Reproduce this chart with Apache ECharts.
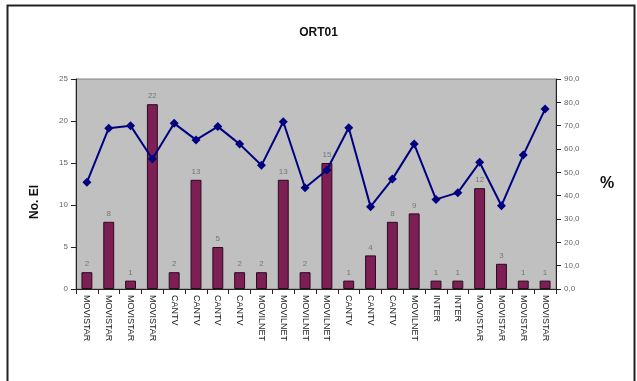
<!DOCTYPE html>
<html>
<head>
<meta charset="utf-8">
<script src="https://cdn.jsdelivr.net/npm/echarts@6/dist/echarts.min.js"></script>
<style>
  html, body { margin: 0; padding: 0; background: #fff; }
  #chart { width: 637px; height: 381px; }
</style>
</head>
<body>
<div id="chart"></div>
<script>
var categories = ['MOVISTAR','MOVISTAR','MOVISTAR','MOVISTAR','CANTV','CANTV','CANTV','CANTV',
  'MOVILNET','MOVILNET','MOVILNET','MOVILNET','CANTV','CANTV','CANTV','MOVILNET',
  'INTER','INTER','MOVISTAR','MOVISTAR','MOVISTAR','MOVISTAR'];
var countValues = [2, 8, 1, 22, 2, 13, 5, 2, 2, 13, 2, 15, 1, 4, 8, 9, 1, 1, 12, 3, 1, 1];
var percentValues = [45.7, 68.9, 70.0, 55.7, 71.0, 63.9, 69.6, 62.1, 53.0, 71.7, 43.4,
  51.0, 69.1, 35.3, 47.1, 62.1, 38.4, 41.3, 54.3, 35.7, 57.4, 77.1];

var myChart = echarts.init(document.getElementById('chart'));

function cal_option() {
  var option = {
    animation: false,
    backgroundColor: '#ffffff',
    title: {
      text: 'ORT01',
      left: 'center',
      top: 22,
      textStyle: { fontFamily: 'Liberation Sans', fontSize: 12, fontWeight: 'bold', color: '#111' }
    },
    graphic: [{
      type: 'rect',
      shape: { x: 7.5, y: 5.5, width: 627, height: 400 },
      style: { fill: null, stroke: '#222', lineWidth: 2 },
      silent: true
    }, {
      type: 'text',
      left: 29,
      top: 185,
      rotation: Math.PI / 2,
      style: { text: 'No. El', font: 'bold 12px Liberation Sans', fill: '#111' }
    }, {
      type: 'text',
      left: 600,
      top: 176,
      style: { text: '%', font: 'bold 16px Liberation Sans', fill: '#111' }
    }],
    grid: {
      left: 76, right: 81, top: 79, bottom: 92,
      show: true,
      backgroundColor: '#c0c0c0',
      borderColor: '#808080',
      borderWidth: 1
    },
    xAxis: {
      type: 'category',
      data: categories,
      axisLine: { lineStyle: { color: '#222' } },
      axisTick: { show: true, lineStyle: { color: '#222' } },
      axisLabel: {
        interval: 0,
        rotate: -90,
        fontFamily: 'Liberation Sans',
        fontSize: 9,
        color: '#222',
        margin: 6
      }
    },
    yAxis: [{
      type: 'value',
      min: 0, max: 25, interval: 5,
      axisLine: { show: true, lineStyle: { color: '#222' } },
      axisTick: { show: true, lineStyle: { color: '#222' } },
      splitLine: { show: false },
      axisLabel: { fontFamily: 'Liberation Sans', fontSize: 8, color: '#666' }
    }, {
      type: 'value',
      min: 0, max: 90, interval: 10,
      position: 'right',
      axisLine: { show: true, lineStyle: { color: '#222' } },
      axisTick: { show: true, lineStyle: { color: '#222' } },
      splitLine: { show: false },
      axisLabel: {
        fontFamily: 'Liberation Sans', fontSize: 8, color: '#666', margin: 8,
        formatter: function (v) { return v.toFixed(1).replace('.', ','); }
      }
    }],
    series: [{
      name: 'No. El',
      type: 'bar',
      data: countValues,
      barWidth: '50%',
      itemStyle: { color: '#7d1f55', borderColor: '#2a0a1e', borderWidth: 1 },
      label: { show: true, position: 'top', fontFamily: 'Liberation Sans', fontSize: 8, color: '#777', distance: 4 }
    }, {
      name: '%',
      type: 'line',
      yAxisIndex: 1,
      data: percentValues,
      symbol: 'diamond',
      symbolSize: 9,
      lineStyle: { color: '#000080', width: 2 },
      itemStyle: { color: '#000080' },
      z: 3
    }]
  };
  return option;
}

myChart.setOption(cal_option());
</script>
</body>
</html>
